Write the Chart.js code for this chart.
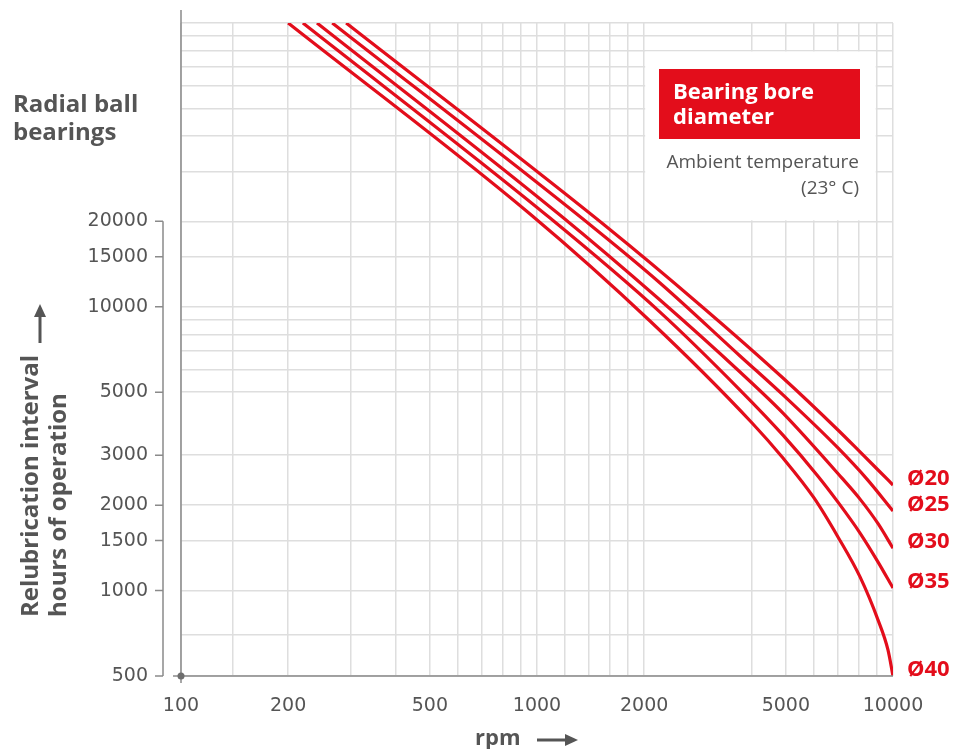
<!DOCTYPE html>
<html>
<head>
<meta charset="utf-8">
<script src="https://cdn.jsdelivr.net/npm/chart.js@4"></script>
<style>
  html, body { margin: 0; padding: 0; background: #fff; }
  #chart { display: block; }
</style>
</head>
<body>
<canvas id="chart" width="953" height="749"></canvas>
<script>
// bearing bore diameters (one curve each)
var boreLabels = ["Ø20", "Ø25", "Ø30", "Ø35", "Ø40"];

// rpm / hours
var rpm20 = [291, 1583, 2870, 4909, 7005, 8080, 9080, 10000];
var hrs20 = [100000, 18950, 10150, 5610, 3680, 3080, 2660, 2355];

var rpm25 = [266, 1446, 2216, 3718, 4909, 7005, 8450, 10000];
var hrs25 = [100000, 18950, 12130, 6710, 4890, 3180, 2470, 1907];

var rpm30 = [241, 1160, 2216, 3718, 4909, 7190, 8080, 9080, 10000];
var hrs30 = [100000, 21050, 10560, 5890, 4220, 2490, 2100, 1720, 1410];

var rpm35 = [220, 1088, 2216, 3718, 4909, 6156, 7005, 8080, 9080, 10000];
var hrs35 = [100000, 20550, 9580, 5090, 3530, 2530, 2050, 1595, 1260, 1021];

var rpm40 = [200, 956, 2077, 4020, 4909, 6000, 7005, 8080, 9080, 9680, 10000];
var hrs40 = [100000, 21230, 8910, 3895, 2930, 2120, 1545, 1117, 787, 618, 500];

// axis grid + labelled ticks
var xGrid = [100, 140, 200, 300, 400, 500, 600, 700, 800, 900, 1000, 1200, 1400, 1600, 1800, 2000, 4000, 5000, 6000, 7000, 8000, 9000, 10000];
var xLabels = [100, 200, 500, 1000, 2000, 5000, 10000];
var yGrid = [500, 700, 1000, 1500, 2000, 3000, 5000, 6000, 7000, 8000, 9000, 10000, 15000, 20000, 30000, 40000, 50000, 60000, 70000, 80000, 90000, 100000];
var yLabels = [500, 1000, 1500, 2000, 3000, 5000, 10000, 15000, 20000];

var RED = "#e30d1b";
var GREY = "#555555";
var FONT = "'Open Sans', 'Noto Sans', sans-serif";
var TICKFONT = "'DejaVu Sans', sans-serif";

function pts(xs, ys) {
  return xs.map(function (x, i) { return { x: x, y: ys[i] }; });
}

var allRpm = [rpm20, rpm25, rpm30, rpm35, rpm40];
var allHrs = [hrs20, hrs25, hrs30, hrs35, hrs40];

var datasets = boreLabels.map(function (name, i) {
  return {
    label: name,
    data: pts(allRpm[i], allHrs[i]),
    borderColor: RED,
    borderWidth: 3.2,
    pointRadius: 0,
    cubicInterpolationMode: "monotone",
    fill: false
  };
});

var decor = {
  id: "decor",
  beforeDatasetsDraw: function (chart) {
    var ctx = chart.ctx, x = chart.scales.x, y = chart.scales.y;
    // white legend panel sitting in the grid
    var l = x.getPixelForValue(2000), r = x.getPixelForValue(9000);
    var t = y.getPixelForValue(80000), b = y.getPixelForValue(20000);
    ctx.save();
    ctx.fillStyle = "#fff";
    ctx.fillRect(l + 1, t + 1, r - l - 2, b - t - 2);
    ctx.restore();
  },
  afterDraw: function (chart) {
    var ctx = chart.ctx, y = chart.scales.y;
    var area = chart.chartArea;
    ctx.save();

    // main axes
    ctx.strokeStyle = "#8a8a8a";
    ctx.lineWidth = 1.5;
    ctx.beginPath();
    ctx.moveTo(area.left, 10);
    ctx.lineTo(area.left, area.bottom);
    ctx.moveTo(area.left - 8, area.bottom);
    ctx.lineTo(area.right, area.bottom);
    ctx.moveTo(area.left, area.bottom);
    ctx.lineTo(area.left, area.bottom + 7);
    ctx.stroke();

    // separate label axis on the left
    var ax = area.left - 18;
    ctx.beginPath();
    ctx.moveTo(ax, y.getPixelForValue(20000));
    ctx.lineTo(ax, y.getPixelForValue(500));
    yLabels.forEach(function (v) {
      var py = y.getPixelForValue(v);
      ctx.moveTo(ax - 8, py);
      ctx.lineTo(ax, py);
    });
    ctx.stroke();

    ctx.fillStyle = "#6e6e6e";
    ctx.beginPath();
    ctx.arc(area.left, area.bottom, 3.5, 0, Math.PI * 2);
    ctx.fill();

    // red legend box
    ctx.fillStyle = RED;
    ctx.fillRect(659, 69, 201, 70);
    ctx.fillStyle = "#fff";
    ctx.font = "bold 22px " + FONT;
    ctx.textAlign = "left";
    ctx.textBaseline = "alphabetic";
    ctx.fillText("Bearing bore", 673, 99);
    ctx.fillText("diameter", 673, 124);

    ctx.fillStyle = GREY;
    ctx.font = "19px " + FONT;
    ctx.textAlign = "right";
    ctx.textBaseline = "middle";
    ctx.fillText("Ambient temperature", 859, 163);
    ctx.fillText("(23° C)", 859, 189);

    // curve end labels
    ctx.fillStyle = RED;
    ctx.font = "bold 22px " + FONT;
    ctx.textAlign = "left";
    ctx.textBaseline = "alphabetic";
    chart.data.datasets.forEach(function (ds, i) {
      var meta = chart.getDatasetMeta(i);
      var last = meta.data[meta.data.length - 1];
      ctx.fillText(ds.label, area.right + 14, last.y);
    });

    // titles
    ctx.fillStyle = GREY;
    ctx.font = "bold 24px " + FONT;
    ctx.fillText("Radial ball", 13, 112);
    ctx.fillText("bearings", 13, 140);

    ctx.font = "bold 22px " + FONT;
    ctx.fillText("rpm", 475, 745);
    ctx.strokeStyle = GREY;
    ctx.lineWidth = 3;
    ctx.beginPath();
    ctx.moveTo(537, 740);
    ctx.lineTo(568, 740);
    ctx.stroke();
    ctx.beginPath();
    ctx.moveTo(578, 740);
    ctx.lineTo(565, 734);
    ctx.lineTo(565, 746);
    ctx.closePath();
    ctx.fill();

    ctx.save();
    ctx.translate(0, 617);
    ctx.rotate(-Math.PI / 2);
    ctx.font = "bold 24px " + FONT;
    ctx.fillText("Relubrication interval", 0, 38);
    ctx.fillText("hours of operation", 0, 66);
    ctx.restore();

    ctx.beginPath();
    ctx.moveTo(40, 343);
    ctx.lineTo(40, 314);
    ctx.stroke();
    ctx.beginPath();
    ctx.moveTo(40, 304);
    ctx.lineTo(34, 317);
    ctx.lineTo(46, 317);
    ctx.closePath();
    ctx.fill();

    ctx.restore();
  }
};

new Chart(document.getElementById("chart"), {
  type: "line",
  data: { datasets: datasets },
  plugins: [decor],
  options: {
    responsive: false,
    animation: false,
    layout: { padding: { left: 0, right: 60, top: 23, bottom: 0 } },
    plugins: { legend: { display: false }, tooltip: { enabled: false } },
    scales: {
      x: {
        type: "logarithmic",
        min: 100,
        max: 10000,
        afterBuildTicks: function (s) { s.ticks = xGrid.map(function (v) { return { value: v }; }); },
        afterFit: function (s) { s.height = 73; s.paddingLeft = 0; s.paddingRight = 0; },
        grid: { color: "#dedede", lineWidth: 1.5, drawTicks: false },
        border: { display: false },
        ticks: {
          autoSkip: false,
          maxRotation: 0,
          padding: 19,
          color: GREY,
          font: { family: TICKFONT, size: 19 },
          callback: function (v) { return xLabels.indexOf(v) >= 0 ? String(v) : ""; }
        }
      },
      y: {
        type: "logarithmic",
        min: 500,
        max: 100000,
        afterBuildTicks: function (s) { s.ticks = yGrid.map(function (v) { return { value: v }; }); },
        afterFit: function (s) { s.width = 181; s.paddingTop = 0; s.paddingBottom = 0; },
        grid: { color: "#dedede", lineWidth: 1.5, drawTicks: false },
        border: { display: false },
        ticks: {
          autoSkip: false,
          padding: 33,
          color: GREY,
          font: { family: TICKFONT, size: 19 },
          callback: function (v) { return yLabels.indexOf(v) >= 0 ? String(v) : ""; }
        }
      }
    }
  }
});
</script>
</body>
</html>
